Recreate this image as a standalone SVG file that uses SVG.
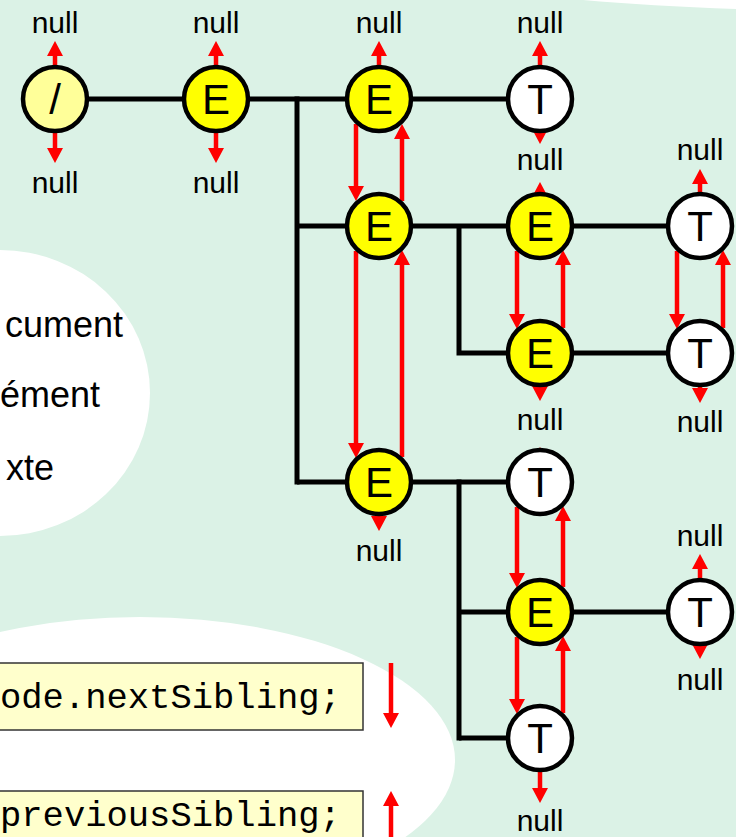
<svg xmlns="http://www.w3.org/2000/svg" width="736" height="837" viewBox="0 0 736 837">
<defs>
<marker id="ah" markerUnits="userSpaceOnUse" markerWidth="16" markerHeight="16" refX="1" refY="8" orient="auto" viewBox="0 0 16 16">
<path d="M0,0 L15,8 L0,16 Z" fill="#FF0000"/>
</marker>
</defs>
<style>
.bus{stroke:#000;stroke-width:5;fill:none}
.ar{stroke:#FF0000;stroke-width:4.5;fill:none;marker-end:url(#ah)}
.nd{stroke:#000;stroke-width:4.5}
.el{fill:#FFFF00}
.tx{fill:#FFFFFF}
.dc{fill:#FFFF99}
.lbl{font-family:"Liberation Sans",Arial,sans-serif;font-size:42px;text-anchor:middle;fill:#000}
.nul{font-family:"Liberation Sans",Arial,sans-serif;font-size:30px;text-anchor:middle;fill:#000}
.leg{font-family:"Liberation Sans",Arial,sans-serif;font-size:36px;text-anchor:end;fill:#000}
.code{font-family:"Liberation Mono","Courier New",monospace;font-size:35.5px;fill:#000}
.box{fill:#FFFFCC;stroke:#333;stroke-width:1.5}
</style>
<rect x="0" y="0" width="736" height="837" fill="#DBF2E6"/>
<path d="M583,0 Q650,6 736,9 L736,0 Z" fill="#FFFFFF"/>
<ellipse cx="0" cy="393" rx="150" ry="143" fill="#FFFFFF"/>
<ellipse cx="140" cy="760" rx="315" ry="143" fill="#FFFFFF"/>

<g id="legend">
<text class="leg" x="123" y="337">cument</text>
<text class="leg" x="0" y="407" text-anchor="start" style="text-anchor:start">ément</text>
<text class="leg" x="54" y="480">xte</text>
<rect class="box" x="-5" y="663" width="368" height="67"/>
<text class="code" x="0" y="708">ode.nextSibling;</text>
<rect class="box" x="-5" y="791" width="368" height="60"/>
<text class="code" x="0" y="826">previousSibling;</text>
<line class="ar" x1="391" y1="663" x2="391" y2="714"/>
<line class="ar" x1="391" y1="837" x2="391" y2="805"/>
</g>

<g id="connectors">
<line class="bus" x1="55" y1="99" x2="216" y2="99" stroke-width="4.5"/>
<polyline class="bus" points="216,99 297,99"/>
<line class="bus" x1="297" y1="96.5" x2="297" y2="484.5"/>
<line class="bus" x1="297" y1="99" x2="379" y2="99"/>
<line class="bus" x1="297" y1="226" x2="379" y2="226"/>
<line class="bus" x1="297" y1="482" x2="379" y2="482"/>
<line class="bus" x1="379" y1="99" x2="540" y2="99"/>
<line class="bus" x1="379" y1="226" x2="540" y2="226"/>
<polyline class="bus" points="459,226 459,353 540,353"/>
<line class="bus" x1="540" y1="226" x2="700" y2="226"/>
<line class="bus" x1="540" y1="353" x2="700" y2="353"/>
<line class="bus" x1="379" y1="482" x2="540" y2="482"/>
<line class="bus" x1="459" y1="479.5" x2="459" y2="740.5"/>
<line class="bus" x1="459" y1="612" x2="540" y2="612"/>
<line class="bus" x1="459" y1="738" x2="540" y2="738"/>
<line class="bus" x1="540" y1="612" x2="700" y2="612"/>

<line class="ar" x1="356" y1="124" x2="356" y2="187"/>
<line class="ar" x1="402" y1="201" x2="402" y2="138"/>
<line class="ar" x1="356" y1="251" x2="356" y2="444"/>
<line class="ar" x1="402" y1="457" x2="402" y2="264"/>
<line class="ar" x1="517" y1="251" x2="517" y2="315"/>
<line class="ar" x1="563" y1="328" x2="563" y2="264"/>
<line class="ar" x1="677" y1="251" x2="677" y2="315"/>
<line class="ar" x1="723" y1="328" x2="723" y2="264"/>
<line class="ar" x1="517" y1="507" x2="517" y2="574"/>
<line class="ar" x1="563" y1="587" x2="563" y2="520"/>
<line class="ar" x1="517" y1="637" x2="517" y2="700"/>
<line class="ar" x1="563" y1="713" x2="563" y2="650"/>

<line class="ar" x1="55" y1="80" x2="55" y2="55"/>
<line class="ar" x1="55" y1="118" x2="55" y2="149"/>
<line class="ar" x1="216" y1="80" x2="216" y2="55"/>
<line class="ar" x1="216" y1="118" x2="216" y2="149"/>
<line class="ar" x1="379" y1="80" x2="379" y2="55"/>
<line class="ar" x1="540" y1="80" x2="540" y2="55"/>
<line class="ar" x1="540" y1="110" x2="540" y2="130"/>
<line class="ar" x1="540" y1="215" x2="540" y2="196"/>
<line class="ar" x1="700" y1="207" x2="700" y2="183"/>
<line class="ar" x1="540" y1="370" x2="540" y2="387"/>
<line class="ar" x1="700" y1="370" x2="700" y2="389"/>
<line class="ar" x1="379" y1="500" x2="379" y2="517"/>
<line class="ar" x1="540" y1="475" x2="540" y2="461"/>
<line class="ar" x1="700" y1="593" x2="700" y2="568"/>
<line class="ar" x1="700" y1="630" x2="700" y2="645"/>
<line class="ar" x1="540" y1="756" x2="540" y2="789"/>
</g>

<g id="n_doc"><circle class="nd dc" cx="55" cy="99" r="32"/><text class="lbl" x="55" y="114">/</text></g>
<g id="n_e1"><circle class="nd el" cx="216" cy="99" r="32"/><text class="lbl" x="216" y="114">E</text></g>
<g id="n_e2"><circle class="nd el" cx="379" cy="99" r="32"/><text class="lbl" x="379" y="114">E</text></g>
<g id="n_t1"><circle class="nd tx" cx="540" cy="99" r="32"/><text class="lbl" x="540" y="114">T</text></g>
<g id="n_e3"><circle class="nd el" cx="379" cy="226" r="32"/><text class="lbl" x="379" y="241">E</text></g>
<g id="n_e4"><circle class="nd el" cx="540" cy="226" r="32"/><text class="lbl" x="540" y="241">E</text></g>
<g id="n_t2"><circle class="nd tx" cx="700" cy="226" r="32"/><text class="lbl" x="700" y="241">T</text></g>
<g id="n_e5"><circle class="nd el" cx="540" cy="353" r="32"/><text class="lbl" x="540" y="368">E</text></g>
<g id="n_t3"><circle class="nd tx" cx="700" cy="353" r="32"/><text class="lbl" x="700" y="368">T</text></g>
<g id="n_e6"><circle class="nd el" cx="379" cy="482" r="32"/><text class="lbl" x="379" y="497">E</text></g>
<g id="n_t4"><circle class="nd tx" cx="540" cy="482" r="32"/><text class="lbl" x="540" y="497">T</text></g>
<g id="n_e7"><circle class="nd el" cx="540" cy="612" r="32"/><text class="lbl" x="540" y="627">E</text></g>
<g id="n_t5"><circle class="nd tx" cx="700" cy="612" r="32"/><text class="lbl" x="700" y="627">T</text></g>
<g id="n_t6"><circle class="nd tx" cx="540" cy="738" r="32"/><text class="lbl" x="540" y="753">T</text></g>

<g id="nulls">
<text class="nul" x="55" y="33">null</text>
<text class="nul" x="216" y="33">null</text>
<text class="nul" x="379" y="33">null</text>
<text class="nul" x="540" y="33">null</text>
<text class="nul" x="55" y="193">null</text>
<text class="nul" x="216" y="193">null</text>
<text class="nul" x="540" y="170">null</text>
<text class="nul" x="700" y="160">null</text>
<text class="nul" x="540" y="430">null</text>
<text class="nul" x="700" y="432">null</text>
<text class="nul" x="379" y="561">null</text>
<text class="nul" x="700" y="546">null</text>
<text class="nul" x="700" y="690">null</text>
<text class="nul" x="540" y="831">null</text>
</g>
</svg>
